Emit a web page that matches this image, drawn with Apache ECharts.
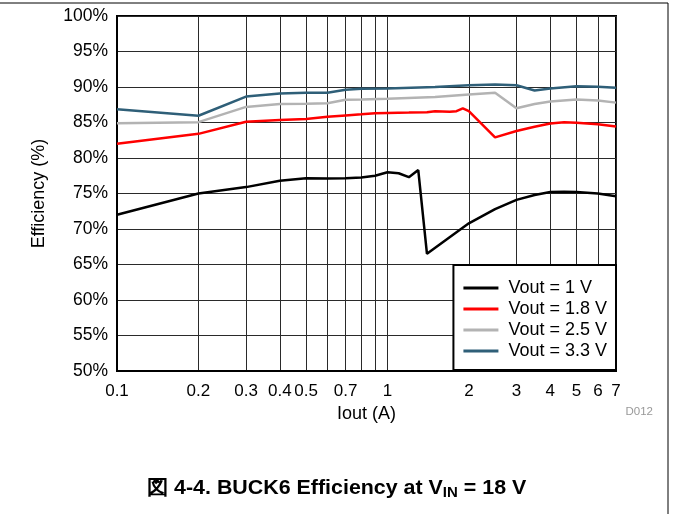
<!DOCTYPE html>
<html>
<head>
<meta charset="utf-8">
<style>
  html, body { margin: 0; padding: 0; background: #fff; }
  #main { width: 673px; height: 514px; }
</style>
<script src="https://cdn.jsdelivr.net/npm/echarts@6/dist/echarts.min.js"></script>
</head>
<body>
<div id="main"></div>
<script>
// Iout (A) / efficiency (%)
var iout1 = [0.1, 0.2, 0.3, 0.4, 0.5, 0.6, 0.7, 0.8, 0.9, 1.0, 1.1, 1.2, 1.3, 1.4, 2, 2.5, 3, 3.5, 4, 4.5, 5, 6, 7];
var eff1 = [72.0, 75.0, 75.9, 76.8, 77.15, 77.1, 77.15, 77.25, 77.5, 78.0, 77.85, 77.3, 78.3, 66.5, 70.8, 72.8, 74.1, 74.8, 75.2, 75.25, 75.2, 75.0, 74.6];

var iout18 = [0.1, 0.2, 0.3, 0.4, 0.5, 0.6, 0.7, 0.8, 0.9, 1.0, 1.2, 1.4, 1.5, 1.7, 1.8, 1.9, 2, 2.5, 3, 3.5, 4, 4.5, 5, 6, 7];
var eff18 = [82.0, 83.4, 85.1, 85.35, 85.5, 85.8, 86.0, 86.15, 86.3, 86.35, 86.4, 86.45, 86.6, 86.5, 86.6, 87.0, 86.6, 82.9, 83.8, 84.4, 84.85, 85.05, 84.95, 84.75, 84.45];

var iout25 = [0.1, 0.2, 0.3, 0.4, 0.5, 0.6, 0.7, 0.8, 1.0, 1.5, 2, 2.5, 3, 3.5, 4, 5, 6, 7];
var eff25 = [84.9, 85.05, 87.2, 87.6, 87.65, 87.7, 88.2, 88.25, 88.35, 88.6, 88.95, 89.2, 87.0, 87.6, 87.95, 88.25, 88.1, 87.8];

var iout33 = [0.1, 0.2, 0.3, 0.4, 0.5, 0.6, 0.7, 0.8, 1.0, 1.5, 2, 2.5, 3, 3.5, 4, 5, 6, 7];
var eff33 = [86.85, 85.95, 88.65, 89.1, 89.2, 89.2, 89.6, 89.75, 89.8, 90.0, 90.25, 90.35, 90.25, 89.5, 89.8, 90.1, 90.05, 89.9];

var xLabels = [0.1, 0.2, 0.3, 0.4, 0.5, 0.7, 1, 2, 3, 4, 5, 6, 7];
var xGrid = [0.1, 0.2, 0.3, 0.4, 0.5, 0.6, 0.7, 0.8, 0.9, 1, 2, 3, 4, 5, 6, 7];

var FONT = "Liberation Sans, Arial, sans-serif";

function zip(xs, ys) {
  return xs.map(function (x, i) { return [x, ys[i]]; });
}

function line(name, color, data) {
  return {
    name: name,
    type: "line",
    data: data,
    symbol: "none",
    smooth: false,
    lineStyle: { color: color, width: 2.5 },
    itemStyle: { color: color },
    animation: false,
  };
}

var chart = echarts.init(document.getElementById("main"));
chart.setOption({
  backgroundColor: "#fff",
  animation: false,
  grid: {
    left: 117,
    right: 57,
    top: 16,
    bottom: 143,
    show: true,
    borderColor: "#000",
    borderWidth: 2,
  },
  legend: {
    orient: "vertical",
    right: 57,
    top: 265,
    align: "left",
    backgroundColor: "#fff",
    borderColor: "#000",
    borderWidth: 2,
    borderRadius: 0,
    padding: [14, 9, 10, 10],
    icon: "rect",
    itemWidth: 35,
    itemHeight: 3,
    itemGap: 3,
    textStyle: { fontFamily: FONT, fontSize: 18, color: "#000", padding: [0, 0, 0, 5] },
    data: ["Vout = 1 V", "Vout = 1.8 V", "Vout = 2.5 V", "Vout = 3.3 V"],
  },
  xAxis: {
    type: "log",
    logBase: 10,
    min: 0.1,
    max: 7,
    name: "Iout (A)",
    nameLocation: "middle",
    nameGap: 32,
    nameTextStyle: { fontFamily: FONT, fontSize: 18, color: "#000" },
    axisLine: { show: true, lineStyle: { color: "#000", width: 2 } },
    axisTick: { show: false, customValues: xGrid },
    axisLabel: {
      customValues: xLabels,
      fontFamily: FONT,
      fontSize: 17,
      color: "#000",
      margin: 12,
      formatter: function (v) { return String(+v.toPrecision(3)); },
    },
    splitLine: { show: true, lineStyle: { color: "#2a2a2a", width: 1 } },
  },
  yAxis: {
    type: "value",
    min: 50,
    max: 100,
    interval: 5,
    name: "Efficiency (%)",
    nameLocation: "middle",
    nameGap: 69,
    nameTextStyle: { fontFamily: FONT, fontSize: 18, color: "#000" },
    axisLine: { show: true, lineStyle: { color: "#000", width: 2 } },
    axisTick: { show: false },
    axisLabel: { fontFamily: FONT, fontSize: 17.5, color: "#000", margin: 9, formatter: "{value}%" },
    splitLine: { show: true, lineStyle: { color: "#2a2a2a", width: 1 } },
  },
  graphic: [
    { type: "line", shape: { x1: 0, y1: 3, x2: 668, y2: 3 }, style: { stroke: "#000", lineWidth: 1 } },
    { type: "line", shape: { x1: 668, y1: 3, x2: 668, y2: 514 }, style: { stroke: "#000", lineWidth: 1 } },
    {
      type: "text",
      right: 20,
      top: 406,
      style: { text: "D012", font: "11.5px " + FONT, fill: "#999" },
    },
    {
      type: "text",
      x: 336.5,
      y: 488,
      scaleX: 1.07,
      style: {
        text: "図 4-4. BUCK6 Efficiency at V{sub|IN} = 18 V",
        font: "bold 20px " + FONT,
        fill: "#000",
        align: "center",
        verticalAlign: "middle",
        rich: {
          sub: { font: "bold 14px " + FONT, fill: "#000", padding: [10, 0, 0, 0] },
        },
      },
    },
  ],
  series: [
    line("Vout = 1 V", "#000000", zip(iout1, eff1)),
    line("Vout = 1.8 V", "#ff0000", zip(iout18, eff18)),
    line("Vout = 2.5 V", "#b3b3b3", zip(iout25, eff25)),
    line("Vout = 3.3 V", "#2f5f78", zip(iout33, eff33)),
  ],
});
</script>
</body>
</html>
